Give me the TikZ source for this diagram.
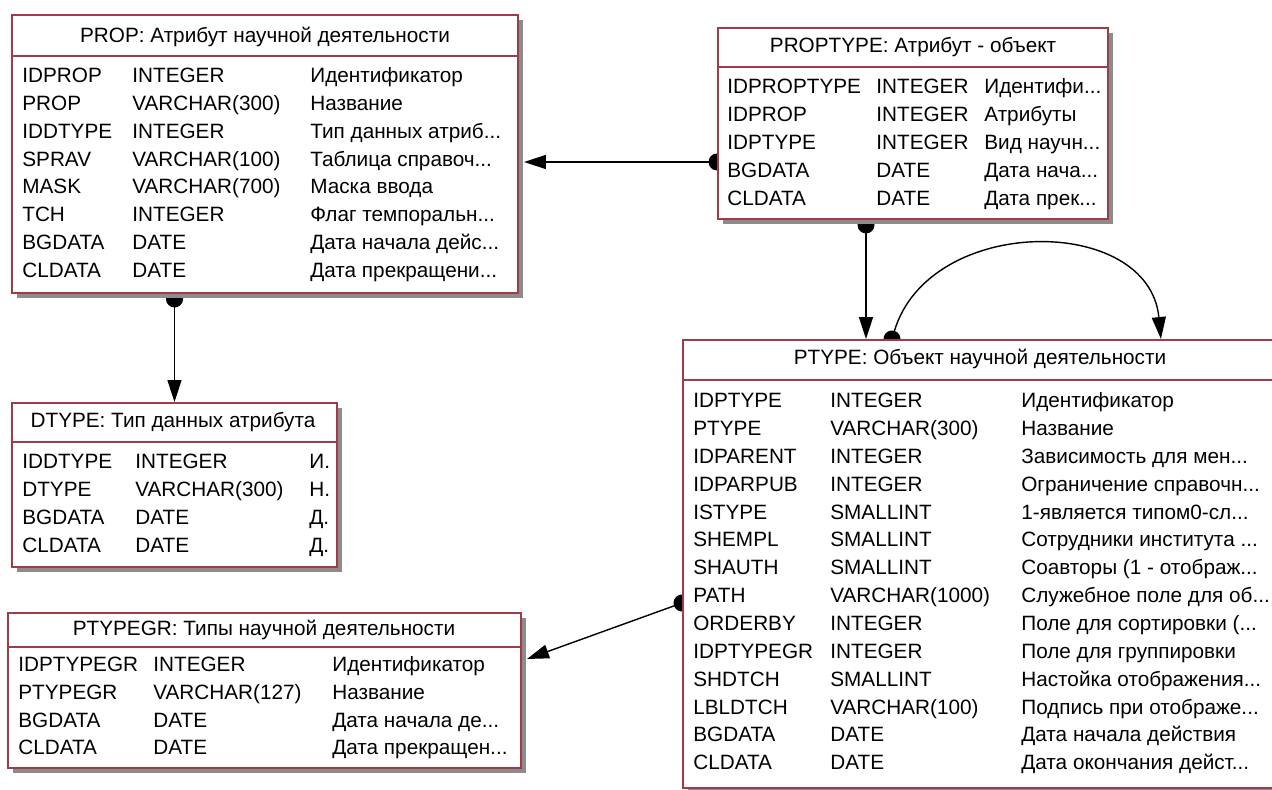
\documentclass[tikz,border=0pt]{standalone}
\usepackage{fontspec}
\setmainfont{Liberation Sans}
\usetikzlibrary{arrows.meta, fit, shadows, backgrounds}
\definecolor{erred}{HTML}{A33A47}
\definecolor{ershadow}{HTML}{8C8C8C}
\newcommand{\trdots}{...}
\tikzset{
	tablebox/.style={draw=erred, line width=1.1pt, fill=white, inner sep=0pt,
		drop shadow={shadow xshift=0.1cm, shadow yshift=-0.1cm, fill=ershadow, opacity=1}},
	headline/.style={draw=erred, line width=1.1pt},
	headtext/.style={inner sep=0pt},
	cell/.style={anchor=west, inner sep=0pt, text height=9pt, text depth=2.5pt},
	rel/.style={line width=0.8pt, {Circle[length=0.34cm]}-{Triangle[length=0.44cm, width=0.28cm]}, shorten <=-0.17cm},
}
\begin{document}
\begin{tikzpicture}[x=0.02cm, y=-0.02cm, font=\fontsize{11.8}{14}\selectfont]
	\useasboundingbox (0,0) rectangle (1272,790);
	\clip (0,0) rectangle (1272,790);
	% PROP
	\node[tablebox, fit={(12,15) (518,293)}] (prop) {};
	\draw[headline] ([yshift=-0.84cm]prop.north west) -- ([yshift=-0.84cm]prop.north east);
	\node[headtext] (prop-title) at (265,37) {PROP: Атрибут научной деятельности};
	\foreach \fname/\ftype/\fdesc [count=\i from 0] in {
		IDPROP/INTEGER/Идентификатор,
		PROP/VARCHAR(300)/Название,
		IDDTYPE/INTEGER/Тип данных атриб\trdots,
		SPRAV/VARCHAR(100)/Таблица справоч\trdots,
		MASK/VARCHAR(700)/Маска ввода,
		TCH/INTEGER/Флаг темпоральн\trdots,
		BGDATA/DATE/Дата начала дейс\trdots,
		CLDATA/DATE/Дата прекращени\trdots}{
		\node[cell] (prop-n\i) at (22,77+27.8*\i) {\fname};
		\node[cell] (prop-t\i) at (132,77+27.8*\i) {\ftype};
		\node[cell] (prop-d\i) at (310,77+27.8*\i) {\fdesc};
	}
	
	% PROPTYPE
	\node[tablebox, fit={(718,28) (1108,219)}] (proptype) {};
	\draw[headline] ([yshift=-0.8cm]proptype.north west) -- ([yshift=-0.8cm]proptype.north east);
	\node[headtext] (proptype-title) at (913,47) {PROPTYPE: Атрибут - объект};
	\foreach \fname/\ftype/\fdesc [count=\i from 0] in {
		IDPROPTYPE/INTEGER/Идентифи\trdots,
		IDPROP/INTEGER/Атрибуты,
		IDPTYPE/INTEGER/Вид научн\trdots,
		BGDATA/DATE/Дата нача\trdots,
		CLDATA/DATE/Дата прек\trdots}{
		\node[cell] (proptype-n\i) at (727,88+28*\i) {\fname};
		\node[cell] (proptype-t\i) at (876,88+28*\i) {\ftype};
		\node[cell] (proptype-d\i) at (984,88+28*\i) {\fdesc};
	}
	
	% DTYPE
	\node[tablebox, fit={(12,403) (337,567)}] (dtype) {};
	\draw[headline] ([yshift=-0.8cm]dtype.north west) -- ([yshift=-0.8cm]dtype.north east);
	\node[headtext] (dtype-title) at (173,422) {DTYPE: Тип данных атрибута};
	\foreach \fname/\ftype/\fdesc [count=\i from 0] in {
		IDDTYPE/INTEGER/И.,
		DTYPE/VARCHAR(300)/Н.,
		BGDATA/DATE/Д.,
		CLDATA/DATE/Д.}{
		\node[cell] (dtype-n\i) at (22,463+28*\i) {\fname};
		\node[cell] (dtype-t\i) at (135,463+28*\i) {\ftype};
		\node[cell] (dtype-d\i) at (309,463+28*\i) {\fdesc};
	}
	
	% PTYPEGR
	\node[tablebox, fit={(8,613) (521,768)}] (ptypegr) {};
	\draw[headline] ([yshift=-0.7cm]ptypegr.north west) -- ([yshift=-0.7cm]ptypegr.north east);
	\node[headtext] (ptypegr-title) at (264,630) {PTYPEGR: Типы научной деятельности};
	\foreach \fname/\ftype/\fdesc [count=\i from 0] in {
		IDPTYPEGR/INTEGER/Идентификатор,
		PTYPEGR/VARCHAR(127)/Название,
		BGDATA/DATE/Дата начала де\trdots,
		CLDATA/DATE/Дата прекращен\trdots}{
		\node[cell] (ptypegr-n\i) at (18,666+27.7*\i) {\fname};
		\node[cell] (ptypegr-t\i) at (153,666+27.7*\i) {\ftype};
		\node[cell] (ptypegr-d\i) at (332,666+27.7*\i) {\fdesc};
	}
	
	% PTYPE
	\node[tablebox, fit={(683,340) (1290,788)}] (ptype) {};
	\draw[headline] ([yshift=-0.82cm]ptype.north west) -- ([yshift=-0.82cm]ptype.north east);
	\node[headtext] (ptype-title) at (980,359) {PTYPE: Объект научной деятельности};
	\foreach \fname/\ftype/\fdesc [count=\i from 0] in {
		IDPTYPE/INTEGER/Идентификатор,
		PTYPE/VARCHAR(300)/Название,
		IDPARENT/INTEGER/Зависимость для мен\trdots,
		IDPARPUB/INTEGER/Ограничение справочн\trdots,
		ISTYPE/SMALLINT/1-является типом0-сл\trdots,
		SHEMPL/SMALLINT/Сотрудники института \trdots,
		SHAUTH/SMALLINT/{Соавторы (1 - отображ\trdots},
		PATH/VARCHAR(1000)/Служебное поле для об\trdots,
		ORDERBY/INTEGER/{Поле для сортировки (\trdots},
		IDPTYPEGR/INTEGER/Поле для группировки,
		SHDTCH/SMALLINT/Настойка отображения\trdots,
		LBLDTCH/VARCHAR(100)/Подпись при отображе\trdots,
		BGDATA/DATE/Дата начала действия,
		CLDATA/DATE/Дата окончания дейст\trdots}{
		\node[cell] (ptype-n\i) at (693,402+27.85*\i) {\fname};
		\node[cell] (ptype-t\i) at (830,402+27.85*\i) {\ftype};
		\node[cell] (ptype-d\i) at (1021,402+27.85*\i) {\fdesc};
	}
	
	% links
	\begin{pgfonlayer}{background}
		\draw[rel] ([yshift=-0.16cm]proptype.west |- prop.east) -- ([xshift=0.1cm, yshift=-0.16cm]prop.east);
		\draw[rel] ([yshift=-0.1cm]prop.south -| dtype.north) -- (dtype.north);
		\draw[rel] ([xshift=-0.94cm, yshift=-0.1cm]proptype.south) -- ([xshift=-0.94cm]proptype.south |- ptype.north);
		\draw[rel] ([xshift=4.2cm]ptype.north west) .. controls +(37,-125) and +(-12,-125) .. ([xshift=9.58cm]ptype.north west);
		\draw[rel] ([yshift=-0.78cm]ptype.west) -- ([xshift=0.1cm, yshift=0.63cm]ptypegr.east);
	\end{pgfonlayer}
\end{tikzpicture}
\end{document}
